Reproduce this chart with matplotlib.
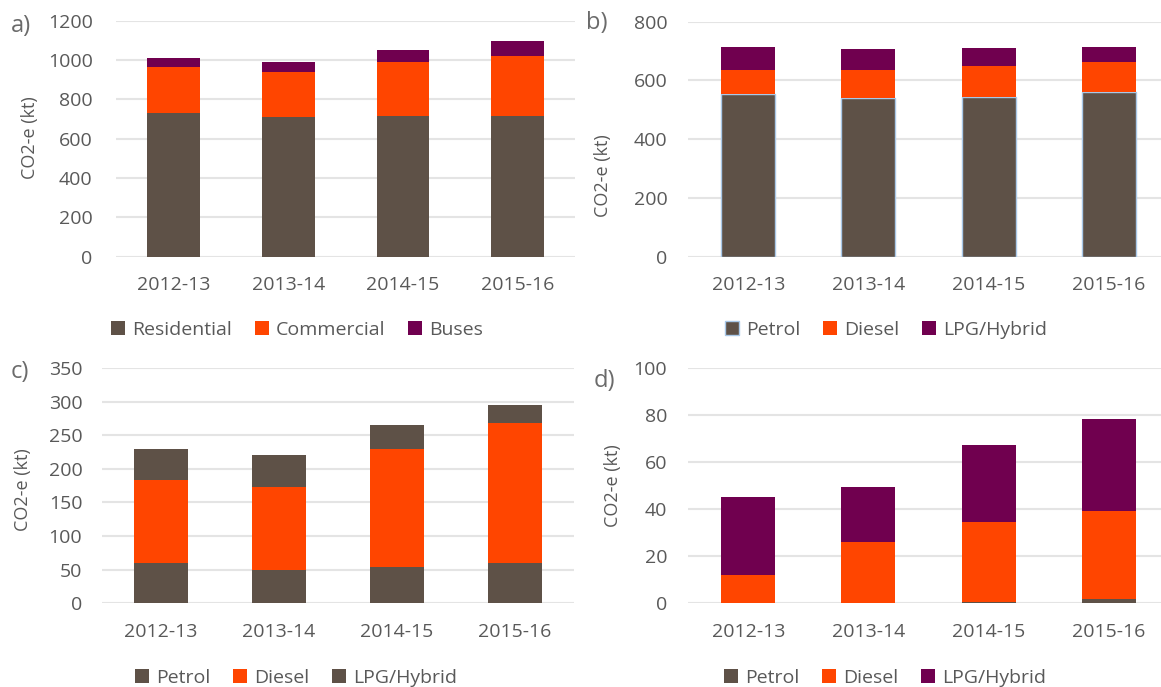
import numpy as np
import matplotlib.pyplot as plt

W, H = 1161, 687

YEARS = ["2012-13", "2013-14", "2014-15", "2015-16"]

# a) by sector
RESIDENTIAL = [728, 711, 714, 717]
COMMERCIAL = [237, 227, 274, 303]
BUSES = [45, 50, 62, 77]

# b) cars by fuel
B_PETROL = [553, 540, 543, 562]
B_DIESEL = [83, 96, 106, 101]
B_LPG = [79, 70, 62, 52]

# c) light commercial by fuel
C_PETROL = [60.6, 49.2, 53.6, 60.6]
C_DIESEL = [123.1, 124.1, 175.8, 208.0]
C_LPG = [46.2, 47.1, 35.2, 25.8]

# d) heavy vehicles by fuel
D_PETROL = [0.0, 0.0, 0.7, 1.8]
D_DIESEL = [12.0, 26.0, 33.8, 37.5]
D_LPG = [33.0, 23.4, 32.7, 39.1]

BROWN = "#5E5147"
ORANGE = "#FF4500"
PURPLE = "#70004F"
TEXT = "#595959"
GRID = "#E4E4E4"
EDGE_BLUE = "#A9C8E8"

plt.rcParams["font.family"] = ["Open Sans", "DejaVu Sans"]


def px_axes(fig, left, right, y0, ytop):
    return fig.add_axes([left / W, 1 - y0 / H, (right - left) / W, (y0 - ytop) / H])


def stacked(ax, series, colors, labels, ymax, step, edges=None, width=0.46, ypad=16):
    x = np.arange(len(YEARS))
    bottom = np.zeros(len(YEARS))
    handles = []
    for i, (vals, col, lab) in enumerate(zip(series, colors, labels)):
        ec = edges[i] if edges else col
        lw = 1.0 if edges and edges[i] != col else 0
        b = ax.bar(x, vals, width, bottom=bottom, color=col, edgecolor=ec,
                   linewidth=lw, label=lab, zorder=3)
        handles.append(b)
        bottom = bottom + np.array(vals)
    ax.set_xlim(-0.5, len(YEARS) - 0.5)
    ax.set_ylim(0, ymax)
    ax.set_yticks(np.arange(0, ymax + step / 2, step))
    ax.set_xticks(x)
    ax.set_xticklabels(YEARS)
    ax.yaxis.grid(True, color=GRID, linewidth=1.5, zorder=0)
    ax.set_axisbelow(True)
    for s in ax.spines.values():
        s.set_visible(False)
    ax.tick_params(axis="y", length=0, pad=ypad, labelsize=14, colors=TEXT)
    ax.tick_params(axis="x", length=0, pad=14, labelsize=14, colors=TEXT)
    return handles


def legend(fig, handles, labels, cx, cy):
    fig.legend(handles, labels, loc="center", bbox_to_anchor=(cx / W, 1 - cy / H),
               ncol=3, frameon=False, fontsize=14, handlelength=0.7,
               handleheight=0.7, handletextpad=0.35, columnspacing=1.2,
               labelcolor=TEXT)


fig = plt.figure(figsize=(W / 100, H / 100), dpi=100)

# a)
ax_a = px_axes(fig, 116.3, 575.1, 256.5, 20.7)
h = stacked(ax_a, [RESIDENTIAL, COMMERCIAL, BUSES], [BROWN, ORANGE, PURPLE],
            ["Residential", "Commercial", "Buses"], 1200, 200, ypad=17)
legend(fig, h, ["Residential", "Commercial", "Buses"], 297, 330)

# b)
ax_b = px_axes(fig, 688.1, 1168.9, 256.7, 21.7)
h = stacked(ax_b, [B_PETROL, B_DIESEL, B_LPG], [BROWN, ORANGE, PURPLE],
            ["Petrol", "Diesel", "LPG/Hybrid"], 800, 200, width=0.45,
            edges=[EDGE_BLUE, ORANGE, PURPLE], ypad=15)
legend(fig, h, ["Petrol", "Diesel", "LPG/Hybrid"], 886, 330)

# c)
ax_c = px_axes(fig, 101.7, 573.7, 603.3, 368)
h = stacked(ax_c, [C_PETROL, C_DIESEL, C_LPG], [BROWN, ORANGE, BROWN],
            ["Petrol", "Diesel", "LPG/Hybrid"], 350, 50, ypad=14)
legend(fig, h, ["Petrol", "Diesel", "LPG/Hybrid"], 296, 678)

# d)
ax_d = px_axes(fig, 688.1, 1168.9, 603.3, 368)
h = stacked(ax_d, [D_PETROL, D_DIESEL, D_LPG], [BROWN, ORANGE, PURPLE],
            ["Petrol", "Diesel", "LPG/Hybrid"], 100, 20, width=0.45, ypad=15)
legend(fig, h, ["Petrol", "Diesel", "LPG/Hybrid"], 885, 678)

# axis titles and panel letters
for x, y in [(30, 138), (603, 176), (23, 490), (613, 486)]:
    fig.text(x / W, 1 - y / H, "CO2-e (kt)", rotation=90, ha="center",
             va="center", fontsize=13, color=TEXT)

for lab, x, y in [("a)", 11, 26), ("b)", 586, 23), ("c)", 11, 372), ("d)", 594, 381)]:
    fig.text(x / W, 1 - y / H, lab, ha="left", va="center", fontsize=17,
             color="#6B6B6B")

fig.savefig("out.png", dpi=100)
